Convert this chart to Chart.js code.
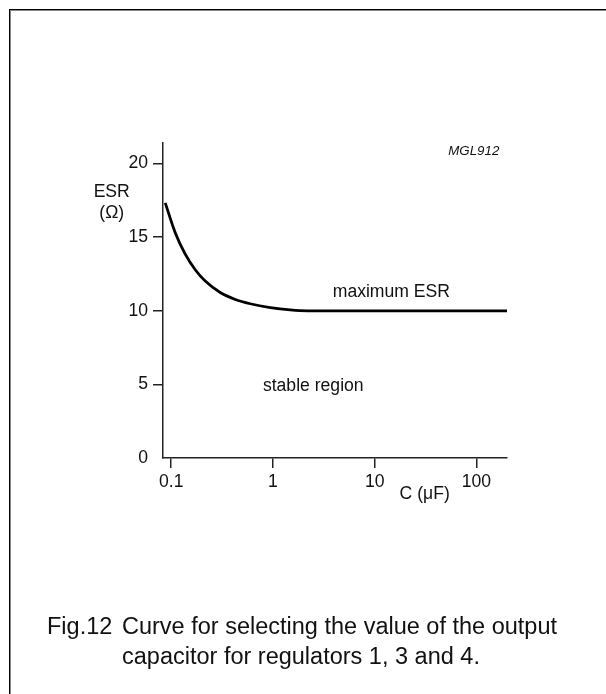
<!DOCTYPE html>
<html lang="en">
<head>
  <meta charset="UTF-8">
  <title>Fig.12 ESR curve</title>
  <script src="https://cdn.jsdelivr.net/npm/chart.js"></script>
  <style>
    body {
      margin: 0;
      background: #fff;
      font-family: "Liberation Sans", Arial, sans-serif;
    }
    .page {
      position: relative;
      width: 606px;
      height: 694px;
      overflow: hidden;
    }
    .frame {
      position: absolute;
      left: 9px;
      top: 9px;
      width: 700px;
      height: 800px;
      border-top: 1px solid #000;
      border-left: 1px solid #000;
      box-shadow: inset 1px 1px 0 #8a8a8a;
    }
    canvas {
      position: absolute;
      left: 0;
      top: 0;
    }
    .caption {
      position: absolute;
      top: 611px;
      font-size: 23.5px;
      line-height: 30px;
      color: #111;
      white-space: nowrap;
    }
  </style>
</head>
<body>
  <div class="page">
    <div class="frame"></div>
    <canvas id="esrChart" width="606" height="694"></canvas>
    <div class="caption" style="left:47px">Fig.12</div>
    <div class="caption" style="left:122px">Curve for selecting the value of the output<br>capacitor for regulators 1, 3 and 4.</div>
  </div>

  <script>
    // maximum ESR curve (C in uF, ESR in ohm)
    const capacitance = [0.0873, 0.1095, 0.1373, 0.1722, 0.216, 0.3034, 0.426, 0.598, 0.941, 1.48, 2.2, 10, 200];
    const esrMax = [17.33, 15.31, 13.85, 12.79, 12.02, 11.24, 10.77, 10.48, 10.22, 10.06, 10, 10, 10];

    // axis ticks
    const xTicks = [0.1, 1, 10, 100];
    const yTicks = [0, 5, 10, 15, 20];

    const axisColor = '#222';
    const font = { family: '"Liberation Sans", Arial, sans-serif', size: 17.6 };

    // free text on the figure, placed in data units
    const notes = [
      { text: 'maximum ESR', x: 14.6, y: 11.27, align: 'center' },
      { text: 'stable region', x: 2.49, y: 4.91, align: 'center' },
      { text: 'MGL912', x: 168, y: 20.86, align: 'right', italic: true, size: 13.3 },
      { text: 'C (\u03BCF)', x: 31, y: -2.46, align: 'center' },
      { text: 'ESR', x: 0.026, y: 18.08, align: 'center' },
      { text: '(\u03A9)', x: 0.026, y: 16.65, align: 'center' }
    ];

    const notesPlugin = {
      id: 'notes',
      afterDraw(chart) {
        const ctx = chart.ctx;
        const xs = chart.scales.x, ys = chart.scales.y;
        ctx.save();
        ctx.fillStyle = '#111';
        ctx.textBaseline = 'middle';
        notes.forEach(n => {
          ctx.font = (n.italic ? 'italic ' : '') + (n.size || font.size) + 'px ' + font.family;
          ctx.textAlign = n.align;
          ctx.fillText(n.text, xs.getPixelForValue(n.x), ys.getPixelForValue(n.y));
        });
        ctx.restore();
      }
    };

    const hideZero = c => (c.tick && c.tick.value === 0) ? 'rgba(0,0,0,0)' : axisColor;

    new Chart(document.getElementById('esrChart'), {
      type: 'line',
      data: {
        datasets: [{
          data: capacitance.map((c, i) => ({ x: c, y: esrMax[i] })),
          borderColor: '#000',
          borderWidth: 2.8,
          pointRadius: 0,
          fill: false,
          cubicInterpolationMode: 'monotone'
        }]
      },
      options: {
        responsive: false,
        animation: false,
        devicePixelRatio: 1,
        layout: { padding: { left: 0, right: 99, top: 143, bottom: 196 } },
        plugins: { legend: { display: false }, tooltip: { enabled: false } },
        scales: {
          x: {
            type: 'logarithmic',
            min: 0.083,
            max: 200,
            afterBuildTicks: s => { s.ticks = xTicks.map(v => ({ value: v })); },
            afterFit: s => { s.height = 40; },
            border: { display: true, color: axisColor, width: 1.5 },
            grid: { drawOnChartArea: false, drawTicks: true, tickLength: 10, color: axisColor, lineWidth: 1.5 },
            ticks: {
              autoSkip: false,
              maxRotation: 0,
              padding: 3.5,
              color: '#111',
              font: font,
              callback: v => String(v)
            }
          },
          y: {
            min: 0,
            max: 21.4,
            afterBuildTicks: s => { s.ticks = yTicks.map(v => ({ value: v })); },
            afterFit: s => { s.width = 163; },
            border: { display: true, color: axisColor, width: 1.5 },
            grid: { drawOnChartArea: false, drawTicks: true, tickLength: 10, color: hideZero, lineWidth: 1.5 },
            ticks: { padding: 5, color: '#111', font: font }
          }
        }
      },
      plugins: [notesPlugin]
    });
  </script>
</body>
</html>
